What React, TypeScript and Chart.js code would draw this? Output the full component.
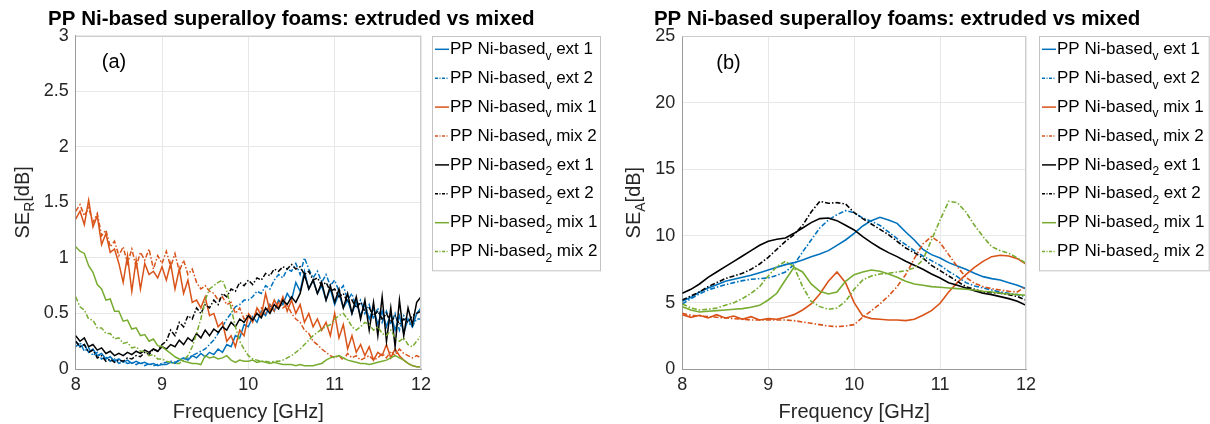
import React, { useEffect, useRef } from "react";
import { Chart, registerables } from "chart.js";

Chart.register(...registerables);

// ---------------- data ----------------
const TITLE = "PP Ni-based superalloy foams: extruded vs mixed";

const SERIES_MAIN = "PP Ni-based";
const SERIES_SUB = ["v", "v", "v", "v", "2", "2", "2", "2"];
const SERIES_REST = [" ext 1", " ext 2", " mix 1", " mix 2", " ext 1", " ext 2", " mix 1", " mix 2"];
const SERIES_COLORS = ["#0072BD", "#0072BD", "#D95319", "#D95319", "#000000", "#000000", "#77AC30", "#77AC30"];
const SERIES_DASHED = [false, true, false, true, false, true, false, true];

const X_TICKS = [8, 9, 10, 11, 12];
const Y_TICKS_A = [0, 0.5, 1, 1.5, 2, 2.5, 3];
const Y_TICKS_B = [0, 5, 10, 15, 20, 25];

const FREQ_A = [
  8.0, 8.05, 8.1, 8.15, 8.2, 8.25, 8.3, 8.35, 8.4, 8.45,
  8.5, 8.55, 8.6, 8.65, 8.7, 8.75, 8.8, 8.85, 8.9, 8.95,
  9.0, 9.05, 9.1, 9.15, 9.2, 9.25, 9.3, 9.35, 9.4, 9.45,
  9.5, 9.55, 9.6, 9.65, 9.7, 9.75, 9.8, 9.85, 9.9, 9.95,
  10.0, 10.05, 10.1, 10.15, 10.2, 10.25, 10.3, 10.35, 10.4, 10.45,
  10.5, 10.55, 10.6, 10.65, 10.7, 10.75, 10.8, 10.85, 10.9, 10.95,
  11.0, 11.05, 11.1, 11.15, 11.2, 11.25, 11.3, 11.35, 11.4, 11.45,
  11.5, 11.55, 11.6, 11.65, 11.7, 11.75, 11.8, 11.85, 11.9, 11.95,
  12.0,
];

// SE_R [dB]
const A_V_EXT1 = [
  0.25, 0.2, 0.22, 0.15, 0.18, 0.12, 0.14, 0.09, 0.11, 0.07,
  0.09, 0.06, 0.08, 0.05, 0.07, 0.05, 0.06, 0.04, 0.05, 0.03,
  0.04, 0.04, 0.06, 0.05, 0.08, 0.1, 0.08, 0.12, 0.1, 0.14,
  0.11, 0.15, 0.13, 0.18, 0.15, 0.22, 0.2, 0.3, 0.28, 0.4,
  0.38, 0.47, 0.42, 0.52, 0.48, 0.58, 0.52, 0.62, 0.58, 0.68,
  0.62, 0.78, 0.7, 0.88, 0.72, 0.8, 0.68, 0.75, 0.62, 0.72,
  0.58, 0.68, 0.55, 0.62, 0.5, 0.6, 0.48, 0.58, 0.45, 0.55,
  0.4, 0.52, 0.38, 0.5, 0.35, 0.48, 0.32, 0.45, 0.38, 0.5,
  0.55,
];
const A_V_EXT2 = [
  0.2, 0.24, 0.16, 0.19, 0.12, 0.15, 0.09, 0.11, 0.07, 0.09,
  0.05, 0.07, 0.05, 0.06, 0.04, 0.06, 0.03, 0.05, 0.03, 0.04,
  0.05, 0.06, 0.07, 0.06, 0.08, 0.09, 0.1, 0.12, 0.14, 0.16,
  0.18, 0.22, 0.26, 0.32, 0.38, 0.45, 0.5, 0.56, 0.58, 0.62,
  0.62, 0.65, 0.7, 0.68, 0.75, 0.72, 0.8, 0.85, 0.82, 0.9,
  0.88, 0.95, 0.85, 1.0, 0.9, 0.82, 0.88, 0.78, 0.85, 0.75,
  0.8, 0.7, 0.75, 0.62, 0.68, 0.55, 0.62, 0.5, 0.58, 0.45,
  0.55, 0.42, 0.52, 0.4, 0.5, 0.35, 0.48, 0.42, 0.38, 0.45,
  0.45,
];
const A_V_MIX1 = [
  1.35, 1.42, 1.3, 1.52, 1.28, 1.38, 1.12, 1.22, 1.05, 1.08,
  0.95, 0.78, 1.02, 0.7, 0.98, 0.72, 0.95, 0.85, 0.88, 0.82,
  0.92, 0.8, 0.95, 0.72, 0.9, 0.68, 0.8, 0.6, 0.62, 0.55,
  0.65, 0.48, 0.5, 0.38, 0.42, 0.25, 0.3, 0.2, 0.35, 0.3,
  0.48, 0.42, 0.55, 0.48, 0.68, 0.52, 0.62, 0.55, 0.65, 0.52,
  0.62, 0.5, 0.58, 0.42, 0.5, 0.38, 0.45, 0.35, 0.42, 0.3,
  0.5, 0.28, 0.4, 0.18, 0.3, 0.15, 0.22, 0.12, 0.2, 0.08,
  0.15, 0.12, 0.22, 0.1, 0.18, 0.12, 0.08, 0.05, 0.03, 0.02,
  0.02,
];
const A_V_MIX2 = [
  1.42, 1.48, 1.38, 1.45, 1.32, 1.4, 1.2, 1.25, 1.1, 1.15,
  1.02, 1.1, 0.95, 1.08, 0.92, 1.05, 0.98, 1.08, 0.9, 1.02,
  0.95, 1.06, 0.92, 1.04, 0.88, 0.98, 0.85, 0.9, 0.78, 0.72,
  0.75, 0.7, 0.68, 0.62, 0.65, 0.58, 0.6, 0.5, 0.55, 0.45,
  0.5, 0.45, 0.52, 0.55, 0.5, 0.58, 0.52, 0.6, 0.55, 0.58,
  0.5, 0.45, 0.42, 0.35, 0.32, 0.25, 0.22, 0.18, 0.15, 0.12,
  0.1, 0.12, 0.08, 0.14, 0.1, 0.12, 0.08, 0.1, 0.12, 0.08,
  0.1, 0.14, 0.1, 0.16, 0.12, 0.18, 0.14, 0.12, 0.1, 0.12,
  0.1,
];
const A_2_EXT1 = [
  0.3, 0.25, 0.28, 0.2, 0.22, 0.17, 0.19, 0.14, 0.16, 0.12,
  0.14, 0.12, 0.15, 0.13, 0.16, 0.14, 0.17, 0.15, 0.18, 0.16,
  0.2, 0.18, 0.22, 0.2, 0.26, 0.22, 0.28, 0.25, 0.32, 0.28,
  0.35, 0.3, 0.36, 0.33, 0.38, 0.35, 0.42, 0.38, 0.45, 0.42,
  0.48, 0.44, 0.5, 0.46, 0.55, 0.5, 0.58, 0.54, 0.62, 0.58,
  0.65, 0.6, 0.68, 0.85, 0.72, 0.8, 0.68, 0.78, 0.62, 0.75,
  0.6, 0.72, 0.55, 0.68, 0.5, 0.65, 0.45, 0.62, 0.35, 0.6,
  0.3, 0.65, 0.25, 0.55, 0.2, 0.62, 0.3, 0.55, 0.4, 0.6,
  0.65,
];
const A_2_EXT2 = [
  0.25, 0.2, 0.22, 0.15, 0.17, 0.1, 0.12, 0.07, 0.09, 0.06,
  0.08, 0.07, 0.1, 0.09, 0.12, 0.11, 0.15, 0.13, 0.18, 0.16,
  0.22, 0.25, 0.35, 0.3, 0.42, 0.38, 0.48, 0.45, 0.55, 0.5,
  0.58, 0.55, 0.62, 0.58, 0.68, 0.65, 0.72, 0.7, 0.78, 0.75,
  0.8, 0.76, 0.82, 0.8, 0.86, 0.84, 0.9, 0.88, 0.92, 0.9,
  0.94, 0.9, 0.92, 0.85, 0.88, 0.8, 0.82, 0.75, 0.78, 0.7,
  0.72, 0.65, 0.68, 0.6, 0.62, 0.55, 0.6, 0.52, 0.55, 0.48,
  0.52, 0.45, 0.5, 0.42, 0.48, 0.4, 0.45, 0.42, 0.48, 0.5,
  0.52,
];
const A_2_MIX1 = [
  1.1, 1.06, 1.04, 0.93, 0.87, 0.76, 0.72, 0.62, 0.63, 0.52,
  0.52, 0.43, 0.44, 0.36, 0.37, 0.3, 0.31, 0.25, 0.27, 0.21,
  0.2, 0.17, 0.14, 0.11, 0.09, 0.07, 0.06, 0.05, 0.05, 0.04,
  0.12, 0.1, 0.11, 0.09, 0.1, 0.12, 0.08, 0.06, 0.08, 0.07,
  0.07, 0.08, 0.06, 0.07, 0.06, 0.05, 0.06, 0.05, 0.04, 0.04,
  0.04, 0.03, 0.04, 0.03, 0.03, 0.03, 0.04, 0.05, 0.08, 0.1,
  0.11, 0.12, 0.1, 0.08, 0.07, 0.06, 0.05, 0.05, 0.04, 0.05,
  0.06, 0.07, 0.08, 0.1, 0.12, 0.1, 0.08, 0.05, 0.03, 0.02,
  0.02,
];
const A_2_MIX2 = [
  0.65, 0.56, 0.53, 0.45, 0.44, 0.37, 0.37, 0.32, 0.32, 0.27,
  0.28, 0.23, 0.24, 0.19, 0.2, 0.16, 0.16, 0.12, 0.13, 0.09,
  0.09, 0.07, 0.06, 0.05, 0.05, 0.08, 0.12, 0.2, 0.32, 0.45,
  0.62, 0.72, 0.75, 0.78, 0.8, 0.7, 0.55, 0.38, 0.25, 0.18,
  0.12, 0.09, 0.08, 0.07, 0.07, 0.06, 0.07, 0.07, 0.08, 0.1,
  0.12, 0.15, 0.18, 0.22, 0.26, 0.3, 0.33, 0.36, 0.38, 0.4,
  0.45, 0.48, 0.5, 0.45, 0.38, 0.35, 0.38, 0.42, 0.4, 0.35,
  0.38, 0.32, 0.3, 0.35, 0.28, 0.25, 0.28, 0.22, 0.2, 0.25,
  0.3,
];

const FREQ_B = [
  8.0, 8.1, 8.2, 8.3, 8.4, 8.5, 8.6, 8.7, 8.8, 8.9,
  9.0, 9.1, 9.2, 9.3, 9.4, 9.5, 9.6, 9.7, 9.8, 9.9,
  10.0, 10.1, 10.2, 10.3, 10.4, 10.5, 10.6, 10.7, 10.8, 10.9,
  11.0, 11.1, 11.2, 11.3, 11.4, 11.5, 11.6, 11.7, 11.8, 11.9,
  12.0,
];

// SE_A [dB]
const B_V_EXT1 = [
  5.1, 5.4, 5.8, 6.1, 6.35, 6.6, 6.75, 6.9, 7.05, 7.25,
  7.45, 7.65, 7.85, 8.0, 8.2, 8.45, 8.65, 8.9, 9.3, 9.7,
  10.2, 10.75, 11.15, 11.4, 11.2, 10.95, 10.3, 9.7, 9.0, 8.6,
  8.35, 8.0, 7.75, 7.5, 7.2, 6.95, 6.8, 6.7, 6.5, 6.3,
  6.05,
];
const B_V_EXT2 = [
  4.9, 5.3, 5.65, 5.95, 6.15, 6.35, 6.5, 6.65, 6.75, 6.8,
  6.85, 7.05, 7.3, 7.85, 8.8, 9.7, 10.6, 11.2, 11.6, 11.9,
  11.75, 11.35, 11.1, 10.8, 10.3, 9.8, 9.35, 8.9, 8.5, 8.15,
  7.8, 7.35, 6.95, 6.5, 6.25, 6.1, 5.95, 5.8, 5.7, 5.6,
  5.45,
];
const B_V_MIX1 = [
  4.1, 3.9, 4.05, 3.85, 4.1, 3.85, 4.0, 3.75, 3.95, 3.7,
  3.8, 3.75, 3.9, 4.1, 4.45, 4.9, 5.65, 6.6, 7.3, 6.5,
  5.0, 4.0, 3.8, 3.75, 3.7, 3.7, 3.65, 3.75, 4.05, 4.4,
  4.95, 5.8, 6.5, 7.1, 7.65, 8.1, 8.45, 8.55, 8.5, 8.3,
  7.9,
];
const B_V_MIX2 = [
  4.2, 4.05, 4.0, 3.95, 3.9, 3.85, 3.8, 3.75, 3.7, 3.7,
  3.7, 3.7, 3.7, 3.65, 3.55, 3.45, 3.35, 3.25, 3.2, 3.25,
  3.35, 3.9, 4.4, 4.9, 5.5, 6.2, 7.1, 8.3, 9.4, 9.95,
  9.5, 8.6, 7.7, 6.9, 6.45, 6.2, 6.05, 5.95, 5.85, 5.8,
  6.25,
];
const B_2_EXT1 = [
  5.7, 6.0, 6.4, 6.9, 7.3, 7.7, 8.1, 8.5, 8.9, 9.3,
  9.6, 9.75, 9.85, 10.2, 10.6, 11.0, 11.3, 11.35, 11.15, 10.8,
  10.45, 9.95, 9.5, 9.1, 8.75, 8.45, 8.1, 7.8, 7.5, 7.15,
  6.85, 6.5, 6.3, 6.1, 5.9, 5.7, 5.6, 5.45, 5.3, 5.1,
  4.8,
];
const B_2_EXT2 = [
  5.2, 5.5, 5.8, 6.2, 6.5, 6.8, 7.0, 7.2, 7.5, 7.9,
  8.4, 9.0, 9.6, 10.1, 10.8, 11.8, 12.6, 12.45, 12.5, 12.4,
  11.75, 11.3, 10.9, 10.5, 10.1, 9.6, 9.1, 8.75, 8.35, 7.8,
  7.4, 7.0, 6.6, 6.2, 6.0, 5.8, 5.75, 5.7, 5.6, 5.45,
  5.2,
];
const B_2_MIX1 = [
  4.7, 4.45, 4.3, 4.35, 4.4, 4.45, 4.5, 4.55, 4.65, 4.8,
  5.2, 5.7, 6.7, 7.65, 7.3, 6.4, 5.85, 5.65, 5.8, 6.6,
  7.1, 7.3, 7.45, 7.35, 7.15, 6.9, 6.6, 6.4, 6.3, 6.2,
  6.15, 6.1, 6.05, 6.0, 5.95, 5.85, 5.8, 5.7, 5.65, 5.6,
  5.55,
];
const B_2_MIX2 = [
  4.9, 4.6, 4.45, 4.5, 4.6, 4.8, 5.0, 5.3, 5.7, 6.2,
  7.0, 7.7, 8.1, 7.7, 6.2, 5.1, 4.7, 4.5, 4.6, 5.1,
  6.0, 6.7, 7.0, 7.15, 7.2, 7.3, 7.4, 7.6, 8.2, 9.7,
  11.2, 12.6, 12.5, 11.8, 10.8, 9.95, 9.2, 8.9, 8.7, 8.35,
  7.95,
];

// ---------------- chart ----------------
const FONT = '"Liberation Sans", Arial, Helvetica, sans-serif';
const W = 605;
const H = 424;

type PanelCfg = {
  offset: number;
  area: { left: number; right: number; top: number; bottom: number };
  freq: number[];
  series: number[][];
  yTicks: number[];
  ySub: string;
  tag: string;
  tagX: number;
  tagY: number;
  yLabelX: number;
  legend: { left: number; right: number; top: number; bottom: number };
  lineWidth: number;
};

function makeOverlay(cfg: PanelCfg) {
  return {
    id: "overlay",
    afterDraw(chart: any) {
      const ctx = chart.ctx as CanvasRenderingContext2D;
      const a = chart.chartArea;
      ctx.save();
      // top & right box edges
      ctx.strokeStyle = "#cdcdcd";
      ctx.lineWidth = 1;
      ctx.setLineDash([]);
      ctx.beginPath();
      ctx.moveTo(a.left, Math.round(a.top) + 0.5);
      ctx.lineTo(a.right, Math.round(a.top) + 0.5);
      ctx.moveTo(Math.round(a.right) - 0.5, a.top);
      ctx.lineTo(Math.round(a.right) - 0.5, a.bottom);
      ctx.stroke();

      // title
      ctx.fillStyle = "#000";
      ctx.font = `bold 20.5px ${FONT}`;
      ctx.textAlign = "center";
      ctx.textBaseline = "middle";
      ctx.fillText(TITLE, (a.left + a.right) / 2 + 43, 19);

      // tag
      ctx.font = `20px ${FONT}`;
      ctx.fillText(cfg.tag, cfg.tagX, cfg.tagY);

      // y label: SE_x[dB]
      ctx.save();
      ctx.translate(cfg.yLabelX, (a.top + a.bottom) / 2);
      ctx.rotate(-Math.PI / 2);
      ctx.fillStyle = "#262626";
      const big = `20px ${FONT}`;
      const small = `14px ${FONT}`;
      ctx.font = big;
      const w1 = ctx.measureText("SE").width;
      const w3 = ctx.measureText("[dB]").width;
      ctx.font = small;
      const w2 = ctx.measureText(cfg.ySub).width;
      let x = -(w1 + w2 + w3) / 2;
      ctx.textAlign = "left";
      ctx.font = big;
      ctx.fillText("SE", x, 0);
      x += w1;
      ctx.font = small;
      ctx.fillText(cfg.ySub, x, 7);
      x += w2;
      ctx.font = big;
      ctx.fillText("[dB]", x, 0);
      ctx.restore();

      // legend
      const L = cfg.legend;
      ctx.fillStyle = "#fff";
      ctx.fillRect(L.left, L.top, L.right - L.left, L.bottom - L.top);
      ctx.strokeStyle = "#c4c4c4";
      ctx.lineWidth = 1;
      ctx.strokeRect(Math.round(L.left) + 0.5, Math.round(L.top) + 0.5, L.right - L.left, L.bottom - L.top);
      const rowH = 28.9;
      for (let i = 0; i < SERIES_SUB.length; i++) {
        const y = L.top + 13.6 + i * rowH;
        ctx.strokeStyle = SERIES_COLORS[i];
        ctx.lineWidth = 1.5;
        ctx.setLineDash(SERIES_DASHED[i] ? [3, 1.5, 1, 1.5] : []);
        ctx.beginPath();
        ctx.moveTo(L.left + 3, y);
        ctx.lineTo(L.left + 17, y);
        ctx.stroke();
        ctx.setLineDash([]);
        ctx.fillStyle = "#000";
        ctx.textAlign = "left";
        ctx.textBaseline = "middle";
        let tx = L.left + 18;
        ctx.font = `17px ${FONT}`;
        ctx.fillText(SERIES_MAIN, tx, y);
        tx += ctx.measureText(SERIES_MAIN).width;
        ctx.font = `12px ${FONT}`;
        ctx.fillText(SERIES_SUB[i], tx, y + 7);
        tx += ctx.measureText(SERIES_SUB[i]).width;
        ctx.font = `17px ${FONT}`;
        ctx.fillText(SERIES_REST[i], tx, y);
      }
      ctx.restore();
    },
  };
}

function Panel({ cfg }: { cfg: PanelCfg }) {
  const ref = useRef<HTMLCanvasElement>(null);
  useEffect(() => {
    const canvas = ref.current!;
    const a = cfg.area;
    const datasets = cfg.series.map((vals, i) => ({
      label: SERIES_MAIN + SERIES_SUB[i] + SERIES_REST[i],
      data: vals.map((v, k) => ({ x: cfg.freq[k], y: v })),
      borderColor: SERIES_COLORS[i],
      backgroundColor: SERIES_COLORS[i],
      borderWidth: cfg.lineWidth,
      borderDash: SERIES_DASHED[i] ? [5, 2, 1.5, 2] : [],
      pointRadius: 0,
      tension: 0,
      fill: false,
      order: -i,
    }));
    const yMax = cfg.yTicks[cfg.yTicks.length - 1];
    const chart = new Chart(canvas, {
      type: "line",
      data: { datasets },
      plugins: [makeOverlay(cfg)],
      options: {
        animation: false,
        responsive: false,
        devicePixelRatio: 1,
        layout: { padding: { left: 0, right: W - a.right, top: a.top, bottom: 0 } },
        plugins: { legend: { display: false }, tooltip: { enabled: false }, title: { display: false } },
        scales: {
          x: {
            type: "linear",
            min: X_TICKS[0],
            max: X_TICKS[X_TICKS.length - 1],
            afterBuildTicks: (s: any) => {
              s.ticks = X_TICKS.map((v) => ({ value: v }));
            },
            afterFit: (s: any) => {
              s.height = H - a.bottom;
            },
            ticks: {
              color: "#262626",
              font: { family: FONT, size: 18 },
              padding: 5,
              maxRotation: 0,
              callback: (v: any) => String(Number(v)),
            },
            grid: { color: "#e8e8e8", drawTicks: false },
            border: { display: true, color: "#9a9a9a" },
            title: { display: true, text: "Frequency [GHz]", color: "#262626", font: { family: FONT, size: 20 }, padding: { top: 0, bottom: 0 } },
          },
          y: {
            type: "linear",
            min: 0,
            max: yMax,
            afterBuildTicks: (s: any) => {
              s.ticks = cfg.yTicks.map((v) => ({ value: v }));
            },
            afterFit: (s: any) => {
              s.width = a.left;
            },
            ticks: {
              color: "#262626",
              font: { family: FONT, size: 18 },
              padding: 7,
              callback: (v: any) => String(Number(v)),
            },
            grid: { color: "#e8e8e8", drawTicks: false },
            border: { display: true, color: "#9a9a9a" },
          },
        },
      } as any,
    });
    return () => chart.destroy();
  }, []);
  return (
    <canvas
      ref={ref}
      width={W}
      height={H}
      style={{ position: "absolute", left: cfg.offset, top: 0, width: W, height: H }}
    />
  );
}

const PANEL_A: PanelCfg = {
  offset: 0,
  area: { left: 75.7, right: 421, top: 35.7, bottom: 369 },
  freq: FREQ_A,
  series: [A_V_EXT1, A_V_EXT2, A_V_MIX1, A_V_MIX2, A_2_EXT1, A_2_EXT2, A_2_MIX1, A_2_MIX2],
  yTicks: Y_TICKS_A,
  ySub: "R",
  tag: "(a)",
  tagX: 114,
  tagY: 62,
  yLabelX: 23,
  legend: { left: 432, right: 600, top: 35.7, bottom: 270 },
  lineWidth: 1.5,
};

const PANEL_B: PanelCfg = {
  offset: 605,
  area: { left: 77.3, right: 421, top: 36, bottom: 369.3 },
  freq: FREQ_B,
  series: [B_V_EXT1, B_V_EXT2, B_V_MIX1, B_V_MIX2, B_2_EXT1, B_2_EXT2, B_2_MIX1, B_2_MIX2],
  yTicks: Y_TICKS_B,
  ySub: "A",
  tag: "(b)",
  tagX: 123.5,
  tagY: 63,
  yLabelX: 29,
  legend: { left: 434, right: 603.7, top: 35.7, bottom: 270 },
  lineWidth: 1.6,
};

export default function App() {
  return (
    <div style={{ position: "absolute", left: 0, top: 0, width: 1210, height: 424, background: "#fff", overflow: "hidden" }}>
      <Panel cfg={PANEL_A} />
      <Panel cfg={PANEL_B} />
    </div>
  );
}
